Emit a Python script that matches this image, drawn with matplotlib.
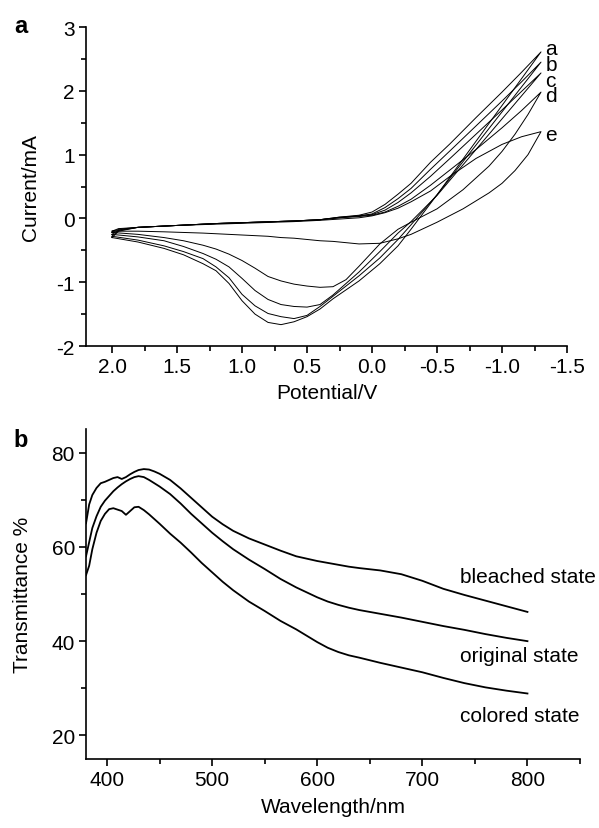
import matplotlib
matplotlib.use("Agg")
import matplotlib.pyplot as plt
from matplotlib.ticker import MultipleLocator, FormatStrFormatter

plt.rcParams['font.family'] = ['Liberation Sans', 'DejaVu Sans']
plt.rcParams['axes.unicode_minus'] = False

# ---- panel a: cyclic voltammograms ----
# forward sweep 2.0 V -> -1.3 V
v_fwd = [2.0, 1.95, 1.8, 1.5, 1.2, 0.9, 0.6, 0.4, 0.25, 0.1, 0.0, -0.1, -0.2, -0.3, -0.45, -0.6, -0.8, -1.0, -1.15, -1.3]
i_fwd = {
    'a': [-0.30, -0.20, -0.14, -0.11, -0.08, -0.06, -0.04, -0.02, 0.02, 0.05, 0.10, 0.22, 0.38, 0.55, 0.88, 1.17, 1.58, 1.98, 2.29, 2.61],
    'b': [-0.28, -0.19, -0.14, -0.11, -0.08, -0.06, -0.04, -0.02, 0.02, 0.04, 0.07, 0.17, 0.31, 0.47, 0.77, 1.06, 1.45, 1.84, 2.14, 2.45],
    'c': [-0.25, -0.18, -0.14, -0.11, -0.08, -0.06, -0.04, -0.02, 0.01, 0.04, 0.06, 0.13, 0.25, 0.40, 0.66, 0.94, 1.32, 1.70, 1.99, 2.28],
    'd': [-0.22, -0.17, -0.14, -0.11, -0.08, -0.06, -0.04, -0.02, 0.01, 0.03, 0.05, 0.10, 0.19, 0.30, 0.52, 0.76, 1.08, 1.42, 1.69, 1.98],
    'e': [-0.20, -0.16, -0.14, -0.11, -0.09, -0.07, -0.05, -0.03, -0.01, 0.01, 0.04, 0.09, 0.16, 0.26, 0.43, 0.66, 0.94, 1.16, 1.28, 1.36],
}
# reverse sweep -1.3 V -> 2.0 V
v_rev = [-1.3, -1.2, -1.1, -1.0, -0.9, -0.7, -0.5, -0.3, -0.2, -0.06, 0.1, 0.2, 0.3, 0.4, 0.5, 0.6, 0.7, 0.8, 0.9, 1.0,
         1.1, 1.2, 1.3, 1.45, 1.6, 1.8, 2.0]
i_rev = {
    'a': [2.61, 2.33, 2.05, 1.77, 1.49, 0.93, 0.37, -0.17, -0.43, -0.71, -0.98, -1.12, -1.26, -1.42, -1.54, -1.62, -1.665, -1.63, -1.50, -1.29,
          -1.02, -0.82, -0.71, -0.57, -0.47, -0.37, -0.30],
    'b': [2.45, 2.19, 1.93, 1.67, 1.41, 0.89, 0.37, -0.10, -0.33, -0.62, -0.90, -1.06, -1.22, -1.38, -1.52, -1.57, -1.54, -1.49, -1.37, -1.19,
          -0.93, -0.76, -0.63, -0.52, -0.43, -0.34, -0.28],
    'c': [2.28, 2.04, 1.80, 1.56, 1.32, 0.84, 0.36, -0.05, -0.23, -0.52, -0.84, -1.02, -1.20, -1.35, -1.39, -1.38, -1.35, -1.27, -1.13, -0.94,
          -0.76, -0.64, -0.55, -0.44, -0.35, -0.29, -0.25],
    'd': [1.98, 1.63, 1.32, 1.05, 0.82, 0.45, 0.15, -0.06, -0.17, -0.40, -0.75, -0.96, -1.07, -1.08, -1.06, -1.03, -0.98, -0.91, -0.78, -0.66,
          -0.56, -0.48, -0.42, -0.35, -0.30, -0.25, -0.22],
    'e': [1.36, 1.00, 0.75, 0.55, 0.40, 0.15, -0.06, -0.25, -0.32, -0.39, -0.40, -0.38, -0.36, -0.35, -0.33, -0.31, -0.30, -0.28, -0.27, -0.26,
          -0.25, -0.24, -0.23, -0.22, -0.21, -0.20, -0.20],
}
curve_names = ['a', 'b', 'c', 'd', 'e']

# ---- panel b: transmittance spectra ----
nm = [380, 383, 386, 390, 394, 398, 402, 406, 410, 414, 418, 422, 426, 430, 435, 440, 445, 450, 460, 470,
      480, 490, 500, 510, 520, 535, 550, 565, 580, 600, 610, 620, 630, 640, 660, 680, 700, 720, 740, 760, 780, 800]
bleached = [65, 69, 71, 72.5, 73.5, 73.8, 74.2, 74.6, 74.8, 74.4, 74.8, 75.4, 75.9, 76.3, 76.5, 76.4, 76.0, 75.5, 74.2, 72.4,
            70.4, 68.4, 66.4, 64.8, 63.4, 61.8, 60.5, 59.2, 58.0, 57.0, 56.6, 56.2, 55.8, 55.5, 55.0, 54.2, 52.8, 51.1, 49.8, 48.6, 47.4, 46.2]
original = [58, 61, 64, 66.5, 68.5, 69.8, 70.8, 71.8, 72.6, 73.3, 73.9, 74.4, 74.8, 75.0, 74.8, 74.2, 73.5, 72.8, 71.2, 69.2,
            67.0, 65.0, 63.0, 61.2, 59.5, 57.3, 55.3, 53.2, 51.4, 49.3, 48.4, 47.7, 47.1, 46.6, 45.8, 45.0, 44.1, 43.2, 42.4, 41.5, 40.7, 40.0]
colored = [54, 56, 59.5, 63, 65.5, 67.0, 68.0, 68.2, 67.9, 67.6, 66.8, 67.6, 68.4, 68.5, 67.8, 66.9, 65.9, 64.9, 62.8, 60.9,
           58.8, 56.6, 54.6, 52.6, 50.8, 48.4, 46.4, 44.3, 42.5, 39.8, 38.6, 37.7, 37.0, 36.5, 35.4, 34.4, 33.4, 32.2, 31.1, 30.2, 29.5, 28.9]
states = [('bleached state', bleached, 53.7), ('original state', original, 37.0), ('colored state', colored, 24.3)]

fs = 15
fig = plt.figure(figsize=(5.99, 8.29), dpi=100)

ax1 = fig.add_axes([0.1436, 0.5814, 0.803, 0.3848])
for k in curve_names:
    ax1.plot(v_fwd + v_rev, i_fwd[k] + i_rev[k], color='black', lw=0.7)
# labels a-d sit tightly stacked at the sweep ends
ax1.text(-1.335, 2.29, 'a\nb\nc\nd', fontsize=fs, ha='left', va='center', linespacing=0.78)
ax1.text(-1.335, 1.31, 'e', fontsize=fs, ha='left', va='center')
ax1.set_xlim(2.2, -1.5)
ax1.set_ylim(-2, 3)
ax1.xaxis.set_major_locator(MultipleLocator(0.5))
ax1.xaxis.set_minor_locator(MultipleLocator(0.25))
ax1.yaxis.set_major_locator(MultipleLocator(1))
ax1.yaxis.set_minor_locator(MultipleLocator(0.5))
ax1.xaxis.set_major_formatter(FormatStrFormatter('%.1f'))
ax1.yaxis.set_major_formatter(FormatStrFormatter('%d'))
ax1.set_xlabel('Potential/V', fontsize=fs, labelpad=5)
ax1.set_ylabel('Current/mA', fontsize=fs, labelpad=12)

ax2 = fig.add_axes([0.1436, 0.0832, 0.8247, 0.3981])
for name, vals, ty in states:
    ax2.plot(nm, vals, color='black', lw=1.3)
    ax2.text(736, ty, name, fontsize=fs, ha='left', va='center')
ax2.set_xlim(380, 850)
ax2.set_ylim(15, 85)
ax2.xaxis.set_major_locator(MultipleLocator(100))
ax2.xaxis.set_minor_locator(MultipleLocator(50))
ax2.yaxis.set_major_locator(MultipleLocator(20))
ax2.yaxis.set_minor_locator(MultipleLocator(10))
ax2.set_xlabel('Wavelength/nm', fontsize=fs, labelpad=6)
ax2.set_ylabel('Transmittance %', fontsize=fs, labelpad=14)

for ax in (ax1, ax2):
    ax.spines['top'].set_visible(False)
    ax.spines['right'].set_visible(False)
    for s in ('left', 'bottom'):
        ax.spines[s].set_linewidth(1.2)
    ax.tick_params(which='major', direction='out', length=5, width=1.2, labelsize=fs, pad=3)
    ax.tick_params(which='minor', direction='out', length=3.5, width=1.2)

fig.text(0.035, 0.968, 'a', fontsize=17, fontweight='bold', ha='center', va='center')
fig.text(0.035, 0.469, 'b', fontsize=17, fontweight='bold', ha='center', va='center')

fig.savefig('out.png', dpi=100)
